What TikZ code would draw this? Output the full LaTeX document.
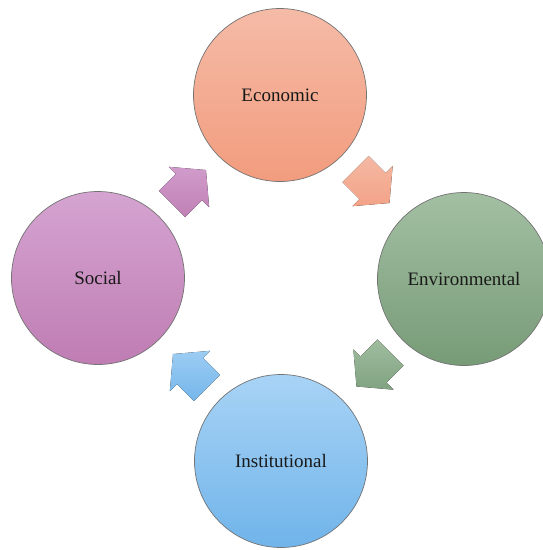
\documentclass[tikz,border=0pt]{standalone}
\usepackage{fontspec}
\setmainfont{Liberation Serif}
\definecolor{ecoT}{HTML}{F5BBA7}
\definecolor{ecoB}{HTML}{F29C7E}
\definecolor{envT}{HTML}{A3BFA3}
\definecolor{envB}{HTML}{779B77}
\definecolor{socT}{HTML}{D5A4D1}
\definecolor{socB}{HTML}{BF7DB3}
\definecolor{insT}{HTML}{A8D3F5}
\definecolor{insB}{HTML}{70B4EA}
\begin{document}
\begin{tikzpicture}[x=1pt,y=-1pt,
  circ/.style={circle, draw=black!55, line width=0.7pt, minimum size=173pt,
    inner sep=0pt, font=\fontsize{19}{22}\selectfont, text=black!90}]
\useasboundingbox (0,0) rectangle (543,550);
\node[circ, top color=ecoT, bottom color=ecoB] (eco) at (280,95) {Economic};
\node[circ, top color=envT, bottom color=envB] (env) at (464,279) {Environmental};
\node[circ, top color=insT, bottom color=insB] (ins) at (281,461) {Institutional};
\node[circ, top color=socT, bottom color=socB] (soc) at (98,278) {Social};
\def\blkarrow{(-24,-18.5) -- (0,-18.5) -- (0,-28.5) -- (24,0) -- (0,28.5) -- (0,18.5) -- (-24,18.5) -- cycle}
\newcommand\blockarrow[5]{%
  \begin{scope}
    \clip[shift={(#1,#2)}, rotate=#3] \blkarrow;
    \fill[top color=#4, bottom color=#5] (#1-36,#2-36) rectangle (#1+36,#2+36);
  \end{scope}}
\blockarrow{189}{187}{45}{socT}{socB}
\blockarrow{372.5}{186}{-45}{ecoT}{ecoB}
\blockarrow{373.5}{369.5}{-135}{envT}{envB}
\blockarrow{190}{371}{135}{insT}{insB}
\end{tikzpicture}
\end{document}
